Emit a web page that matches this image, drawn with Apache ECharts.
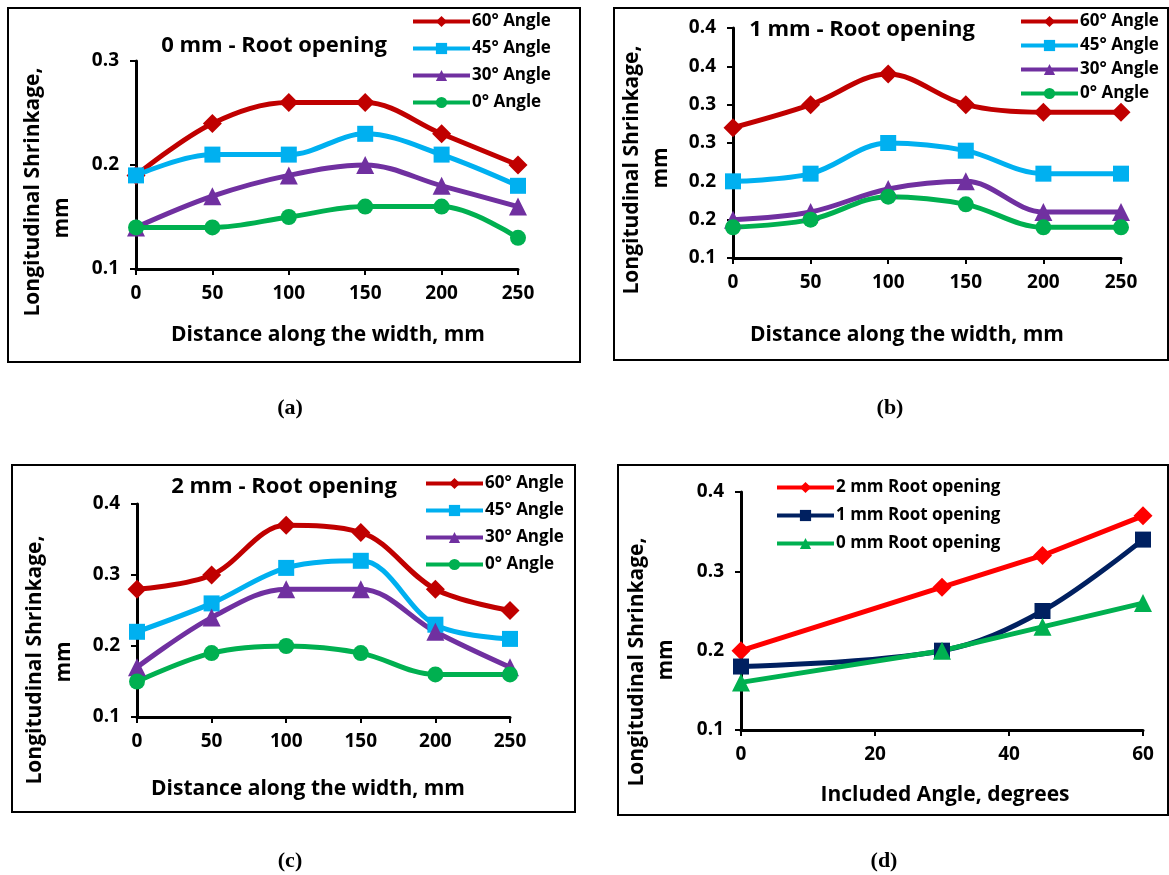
<!DOCTYPE html>
<html>
<head>
<meta charset="utf-8">
<script src="https://cdn.jsdelivr.net/npm/echarts@6/dist/echarts.min.js"></script>
<style>
  html, body { margin: 0; background: #fff; }
  #chart { width: 1169px; height: 875px; }
</style>
</head>
<body>
<div id="chart"></div>
<script>
// distance along the width, mm (panels a-c)
const widthX = [0, 50, 100, 150, 200, 250]
const angleNames = ['60° Angle', '45° Angle', '30° Angle', '0° Angle']

// (a) 0 mm root opening
const a60 = [0.19, 0.24, 0.26, 0.26, 0.23, 0.20]
const a45 = [0.19, 0.21, 0.21, 0.23, 0.21, 0.18]
const a30 = [0.14, 0.17, 0.19, 0.20, 0.18, 0.16]
const a0 = [0.14, 0.14, 0.15, 0.16, 0.16, 0.13]

// (b) 1 mm root opening
const b60 = [0.27, 0.30, 0.34, 0.30, 0.29, 0.29]
const b45 = [0.20, 0.21, 0.25, 0.24, 0.21, 0.21]
const b30 = [0.15, 0.16, 0.19, 0.20, 0.16, 0.16]
const b0 = [0.14, 0.15, 0.18, 0.17, 0.14, 0.14]
const bTickLabels = ['0.1', '0.2', '0.2', '0.3', '0.3', '0.4', '0.4']

// (c) 2 mm root opening
const c60 = [0.28, 0.30, 0.37, 0.36, 0.28, 0.25]
const c45 = [0.22, 0.26, 0.31, 0.32, 0.23, 0.21]
const c30 = [0.17, 0.24, 0.28, 0.28, 0.22, 0.17]
const c0 = [0.15, 0.19, 0.20, 0.19, 0.16, 0.16]

// (d) included angle
const angleX = [0, 30, 45, 60]
const rootNames = ['2 mm Root opening', '1 mm Root opening', '0 mm Root opening']
const d2 = [0.20, 0.28, 0.32, 0.37]
const d1 = [0.18, 0.20, 0.25, 0.34]
const d0 = [0.16, 0.20, 0.23, 0.26]

const font = 'Open Sans'
const angleColors = ['#C00000', '#00B0F0', '#7030A0', '#00B050']
const angleSymbols = ['diamond', 'rect', 'triangle', 'circle']
const angleSizes = [[19, 19], 16, 18, 16]
const rootColors = ['#FF0000', '#002060', '#00B050']
const rootSymbols = ['diamond', 'rect', 'triangle']
const rootSizes = [[19, 19], 16, 18]

const grids = [
  { left: 136, top: 61, width: 382, height: 208 },
  { left: 733, top: 28, width: 388, height: 230 },
  { left: 137, top: 504, width: 373, height: 213 },
  { left: 741, top: 492, width: 402, height: 238 },
]

function mkSeries(gi, names, sets, xs, colors, symbols, sizes, smooth) {
  return sets.map((vals, k) => ({
    type: 'line',
    name: names[k],
    xAxisIndex: gi,
    yAxisIndex: gi,
    data: vals.map((v, i) => [xs[i], v]),
    smooth: smooth === undefined ? 0.35 : smooth[k],
    symbol: symbols[k],
    symbolSize: sizes[k],
    showAllSymbol: true,
    lineStyle: { color: colors[k], width: 5 },
    itemStyle: { color: colors[k] },
    emphasis: { disabled: true },
  }))
}

function xAx(gi, max, interval) {
  return {
    type: 'value', gridIndex: gi, min: 0, max: max, interval: interval,
    axisLine: { show: true, onZero: false, lineStyle: { color: '#000', width: 3 } },
    axisTick: { show: true, length: 6, lineStyle: { color: '#000', width: 2 } },
    axisLabel: { color: '#000', fontFamily: font, fontWeight: 'bold', fontSize: 19, margin: 15 },
    splitLine: { show: false },
  }
}

function yAx(gi, min, max, interval, fmt) {
  return {
    type: 'value', gridIndex: gi, min: min, max: max, interval: interval,
    axisLine: { show: true, onZero: false, lineStyle: { color: '#000', width: 3 } },
    axisTick: { show: true, length: 6, lineStyle: { color: '#000', width: 2 } },
    axisLabel: { color: '#000', fontFamily: font, fontWeight: 'bold', fontSize: 19, margin: 17,
      formatter: fmt || (v => v.toFixed(1)) },
    splitLine: { show: false },
  }
}

function legend(names, left, top, gap) {
  return {
    data: names, orient: 'vertical', left: left, top: top,
    itemWidth: 57, itemHeight: 14, itemGap: gap, selectedMode: false,
    lineStyle: { width: 4 },
    textStyle: { color: '#000', fontFamily: font, fontWeight: 'bold', fontSize: 17, padding: [0, 0, 0, -3] },
  }
}

function txt(x, y, text, size, rot, family) {
  return {
    type: 'text', x: x, y: y, rotation: rot || 0,
    style: { text: text, fill: '#000', font: 'bold ' + size + 'px ' + (family || font),
      align: 'center', verticalAlign: 'middle' },
  }
}

function box(x, y, w, h) {
  return { type: 'rect', shape: { x: x, y: y, width: w, height: h },
    style: { fill: 'none', stroke: '#000', lineWidth: 2 }, silent: true }
}

const chart = echarts.init(document.getElementById('chart'))

chart.setOption({
  animation: false,
  grid: grids,
  xAxis: [xAx(0, 250, 50), xAx(1, 250, 50), xAx(2, 250, 50), xAx(3, 60, 20)],
  yAxis: [
    yAx(0, 0.1, 0.3, 0.1),
    yAx(1, 0.1, 0.4, 0.05, (v, i) => bTickLabels[i]),
    yAx(2, 0.1, 0.4, 0.1),
    yAx(3, 0.1, 0.4, 0.1),
  ],
  legend: [
    legend(angleNames, 406, 8, 10),
    legend(angleNames, 1014, 8, 7),
    legend(angleNames, 419, 470, 10),
    legend(rootNames, 770, 474, 11),
  ],
  series: [
    ...mkSeries(0, angleNames, [a60, a45, a30, a0], widthX, angleColors, angleSymbols, angleSizes),
    ...mkSeries(1, angleNames, [b60, b45, b30, b0], widthX, angleColors, angleSymbols, angleSizes),
    ...mkSeries(2, angleNames, [c60, c45, c30, c0], widthX, angleColors, angleSymbols, angleSizes),
    ...mkSeries(3, rootNames, [d2, d1, d0], angleX, rootColors, rootSymbols, rootSizes, [0, 0.35, 0]),
  ],
  graphic: [
    box(8, 8, 572, 354),
    box(614, 8, 554, 352),
    box(12, 465, 563, 347),
    box(618, 465, 550, 350),
    txt(274, 46, '0 mm - Root opening', 22),
    txt(862, 30, '1 mm - Root opening', 22),
    txt(284, 487, '2 mm - Root opening', 22),
    txt(328, 335, 'Distance along the width, mm', 21),
    txt(907, 335, 'Distance along the width, mm', 21),
    txt(308, 789, 'Distance along the width, mm', 21),
    txt(945, 795, 'Included Angle, degrees', 21),
    txt(33, 192, 'Longitudinal Shrinkage,', 21, Math.PI / 2),
    txt(62, 218, 'mm', 21, Math.PI / 2),
    txt(632, 170, 'Longitudinal Shrinkage,', 21, Math.PI / 2),
    txt(661, 168, 'mm', 21, Math.PI / 2),
    txt(35, 660, 'Longitudinal Shrinkage,', 21, Math.PI / 2),
    txt(64, 662, 'mm', 21, Math.PI / 2),
    txt(637, 662, 'Longitudinal Shrinkage,', 21, Math.PI / 2),
    txt(666, 660, 'mm', 21, Math.PI / 2),
    txt(290, 408, '(a)', 22, 0, 'Liberation Serif'),
    txt(890, 408, '(b)', 22, 0, 'Liberation Serif'),
    txt(290, 861, '(c)', 22, 0, 'Liberation Serif'),
    txt(884, 861, '(d)', 22, 0, 'Liberation Serif'),
  ],
})
</script>
</body>
</html>
